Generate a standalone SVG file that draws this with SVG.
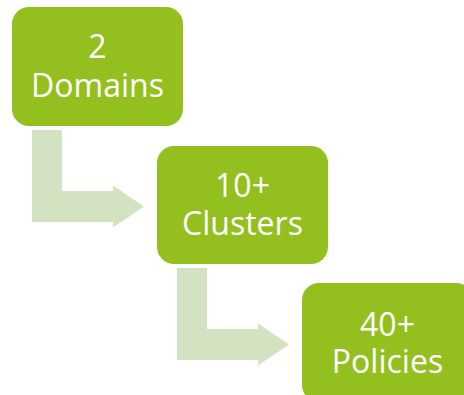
<svg xmlns="http://www.w3.org/2000/svg" width="464" height="395" viewBox="0 0 464 395">
<style>
.box{fill:#93C01F}
.arr{fill:#D3E3C1}
.t{font-family:"Open Sans","DejaVu Sans",sans-serif;font-size:32px;fill:#FFFFFF;text-anchor:middle}
</style>
<rect width="464" height="395" fill="#FFFFFF"/>
<g id="connectors">
<polygon class="arr" points="32,130 62,130 62,191 113,191 113,185.5 144,206.5 113,227.5 113,222 32,222"/>
<polygon class="arr" points="177,268 207,268 207,329 258,329 258,323.5 289,344.5 258,365.5 258,360 177,360"/>
</g>
<g id="node-domains">
<rect class="box" x="12" y="7" width="171" height="119" rx="17"/>
<text class="t" x="97.5" y="58">2</text>
<text class="t" x="97.5" y="97">Domains</text>
</g>
<g id="node-clusters">
<rect class="box" x="157" y="146" width="171" height="118" rx="17"/>
<text class="t" x="242.5" y="197">10+</text>
<text class="t" x="242.5" y="235">Clusters</text>
</g>
<g id="node-policies">
<rect class="box" x="302" y="283" width="171" height="119" rx="17"/>
<text class="t" x="387.5" y="336">40+</text>
<text class="t" x="387.5" y="373">Policies</text>
</g>
</svg>
